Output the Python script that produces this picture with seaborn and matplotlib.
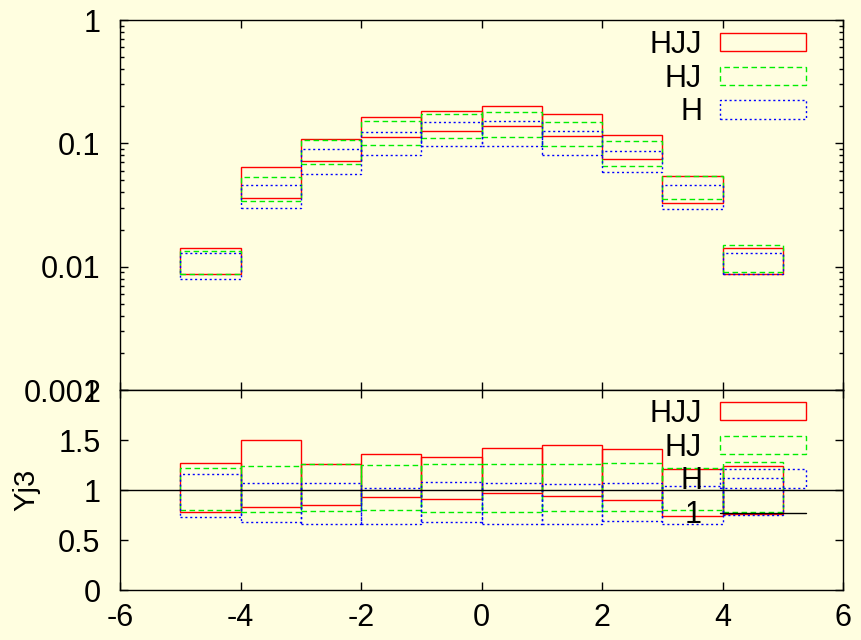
import numpy as np
import pandas as pd
import matplotlib
matplotlib.use("Agg")
import matplotlib.pyplot as plt
import seaborn as sns
from matplotlib.patches import Rectangle
from matplotlib.lines import Line2D
from matplotlib.ticker import LogLocator, NullFormatter, FixedLocator

# Bin edges (width 1, from -5 to 5)
bin_lo = [-5, -4, -3, -2, -1, 0, 1, 2, 3, 4]

# Distribution bands (upper / lower envelope per bin)
hjj_hi = [0.0141, 0.0643, 0.108, 0.164, 0.184, 0.201, 0.173, 0.116, 0.0543, 0.0143]
hjj_lo = [0.0087, 0.0360, 0.0722, 0.1125, 0.127, 0.137, 0.114, 0.0741, 0.0328, 0.0088]
hj_hi = [0.0135, 0.0533, 0.106, 0.152, 0.174, 0.178, 0.150, 0.104, 0.0543, 0.0149]
hj_lo = [0.0088, 0.0340, 0.0675, 0.0969, 0.110, 0.112, 0.0957, 0.0651, 0.0354, 0.0091]
h_hi = [0.0128, 0.0459, 0.0904, 0.124, 0.149, 0.152, 0.127, 0.0871, 0.0462, 0.0130]
h_lo = [0.0080, 0.0299, 0.0564, 0.0804, 0.0951, 0.0945, 0.0804, 0.0585, 0.0295, 0.0087]

# Ratio bands
hjj_hi_r = [1.27, 1.50, 1.26, 1.36, 1.33, 1.42, 1.45, 1.41, 1.21, 1.24]
hjj_lo_r = [0.78, 0.83, 0.85, 0.93, 0.91, 0.97, 0.94, 0.90, 0.74, 0.76]
hj_hi_r = [1.22, 1.24, 1.26, 1.25, 1.26, 1.26, 1.26, 1.27, 1.22, 1.28]
hj_lo_r = [0.80, 0.78, 0.79, 0.80, 0.78, 0.78, 0.79, 0.79, 0.80, 0.78]
h_hi_r = [1.16, 1.07, 1.07, 1.02, 1.08, 1.07, 1.06, 1.07, 1.04, 1.12]
h_lo_r = [0.73, 0.68, 0.66, 0.66, 0.68, 0.66, 0.66, 0.69, 0.66, 0.75]

labels = ["HJJ", "HJ", "H"]
colors = ["#ff0000", "#00ee00", "#0000ff"]
styles = ["-", (0, (4, 2.5)), (0, (1.5, 2))]

bg = "#fffee0"
sns.set_theme(style="ticks", rc={
    "axes.facecolor": bg, "figure.facecolor": bg,
    "axes.edgecolor": "black", "axes.linewidth": 1.0,
    "text.color": "black", "axes.labelcolor": "black",
    "xtick.color": "black", "ytick.color": "black",
    "xtick.direction": "in", "ytick.direction": "in",
    "xtick.top": True, "ytick.right": True,
})
plt.rcParams["font.family"] = ["Liberation Sans", "DejaVu Sans"]
fs = 22

fig = plt.figure(figsize=(8.61, 6.40), dpi=100)
ax1 = fig.add_axes([120 / 861, 250 / 640, 723 / 861, 370 / 640])
ax2 = fig.add_axes([120 / 861, 50 / 640, 723 / 861, 200 / 640])


def draw_bands(ax, bands):
    for (hi, lo), c, ls in zip(bands, colors, styles):
        hi = np.asarray(hi)
        lo = np.asarray(lo)
        ax.bar(bin_lo, hi - lo, bottom=lo, width=1.0, align="edge",
               fill=False, edgecolor=c, linestyle=ls, linewidth=1.0)


def legend_handles():
    return [Rectangle((0, 0), 1, 1, fill=False, edgecolor=c, linestyle=ls, linewidth=1.0)
            for c, ls in zip(colors, styles)]


legend_kw = dict(loc="upper right", bbox_transform=fig.transFigure,
                 markerfirst=False, frameon=False, fontsize=fs, handlelength=2.8,
                 handleheight=0.55, labelspacing=0.12, borderpad=0, borderaxespad=0,
                 handletextpad=0.6)

# Upper panel: distributions on log scale
ax1.set_yscale("log")
draw_bands(ax1, [(hjj_hi, hjj_lo), (hj_hi, hj_lo), (h_hi, h_lo)])
ax1.set_xlim(-6, 6)
ax1.set_ylim(0.001, 1)
ax1.xaxis.set_major_locator(FixedLocator([-6, -4, -2, 0, 2, 4, 6]))
ax1.set_xticklabels([])
ax1.yaxis.set_major_locator(FixedLocator([0.001, 0.01, 0.1, 1]))
ax1.set_yticklabels(["0.001", "0.01", "0.1", "1"])
ax1.yaxis.set_minor_locator(LogLocator(base=10, subs=np.arange(2, 10)))
ax1.yaxis.set_minor_formatter(NullFormatter())
ax1.tick_params(axis="both", which="major", length=6, width=1.0, labelsize=fs, pad=14)
ax1.tick_params(axis="y", which="minor", length=3, width=1.0)

ax1.legend(legend_handles(), labels,
           bbox_to_anchor=(806 / 861, 1 - 30 / 640), **legend_kw)

# Lower panel: ratios
draw_bands(ax2, [(hjj_hi_r, hjj_lo_r), (hj_hi_r, hj_lo_r), (h_hi_r, h_lo_r)])
ax2.axhline(1.0, color="black", linewidth=1.0)
ax2.set_xlim(-6, 6)
ax2.set_ylim(0, 2)
ax2.xaxis.set_major_locator(FixedLocator([-6, -4, -2, 0, 2, 4, 6]))
ax2.set_xticklabels(["-6", "-4", "-2", "0", "2", "4", "6"])
ax2.yaxis.set_major_locator(FixedLocator([0, 0.5, 1, 1.5, 2]))
ax2.set_yticklabels(["0", "0.5", "1", "1.5", "2"])
ax2.tick_params(axis="both", which="major", length=6, width=1.0, labelsize=fs, pad=14)
ax2.tick_params(axis="x", which="major", pad=9)
ax2.set_ylabel("Yj3", fontsize=21)
ax2.yaxis.set_label_coords(-0.11, 0.5)

ax2.legend(legend_handles() + [Line2D([0], [0], color="black", linewidth=1.0)],
           labels + ["1"],
           bbox_to_anchor=(806 / 861, 1 - 399 / 640), **legend_kw)

fig.savefig("out.png", dpi=100, facecolor=bg)
